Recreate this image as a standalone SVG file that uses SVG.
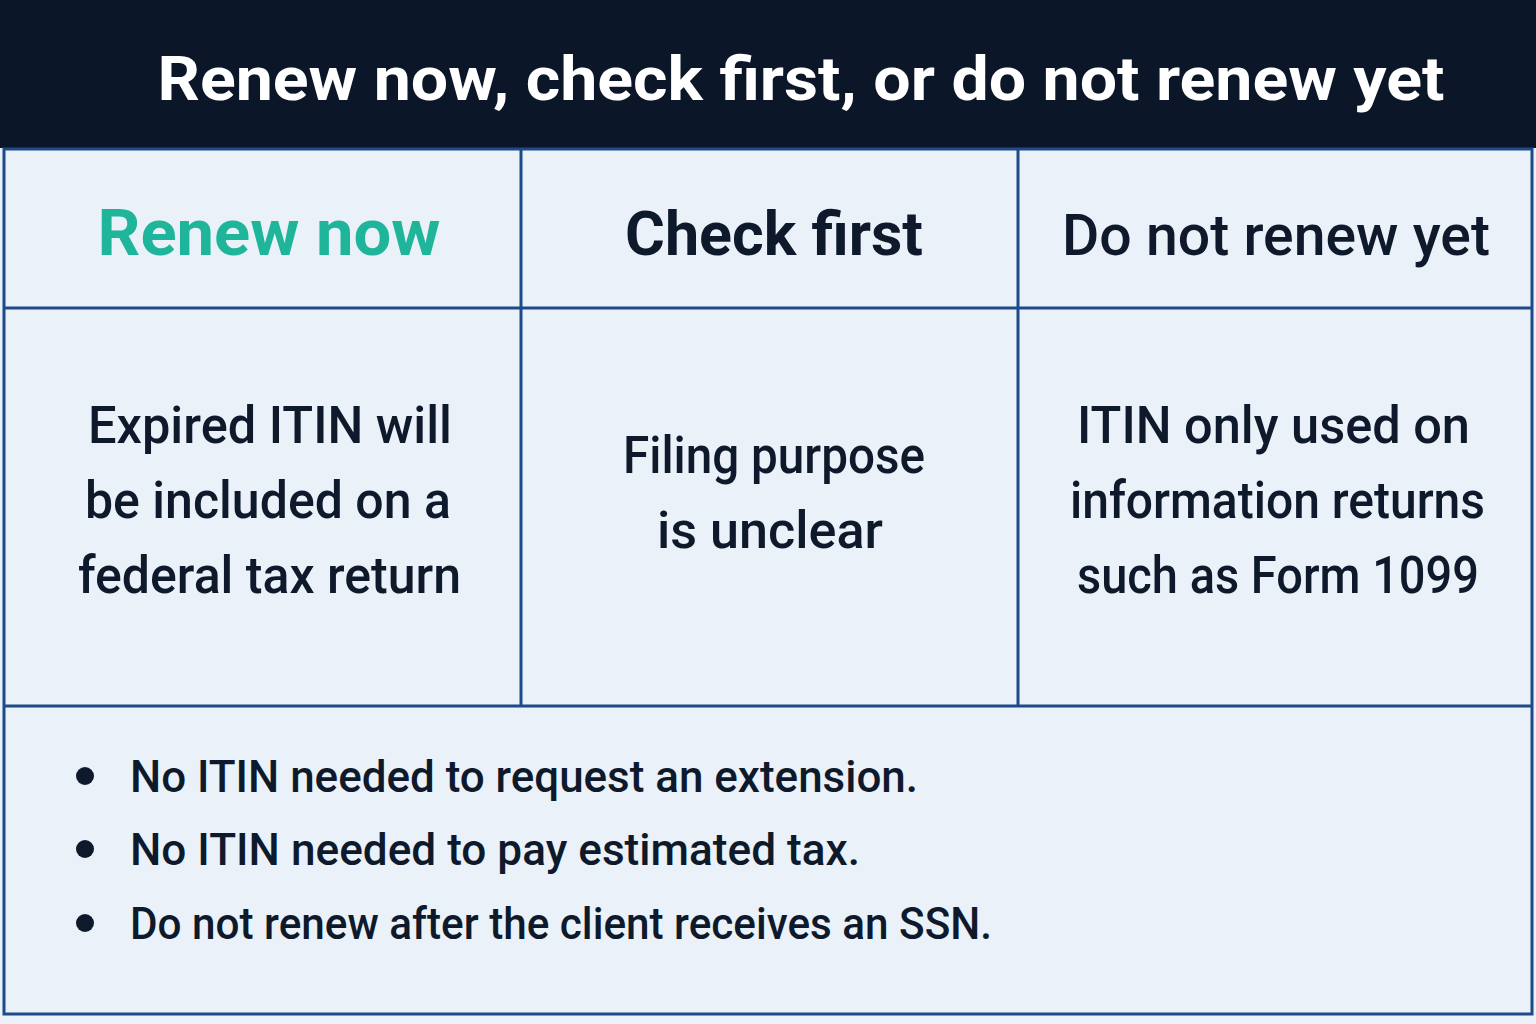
<svg xmlns="http://www.w3.org/2000/svg" width="1536" height="1024" viewBox="0 0 1536 1024">
<style>
.t{font-family:"Roboto","Liberation Sans",sans-serif;font-weight:500;fill:#0e1a2b}
.b{stroke:#1d4a8a;stroke-width:3;fill:none}
</style>
<rect width="1536" height="1024" fill="#eaf1f8"/>
<rect x="0" y="0" width="1536" height="148" fill="#0b1628"/>
<text x="801" y="100" text-anchor="middle" class="t" style="fill:#fff;font-weight:700" font-size="62" textLength="1287" lengthAdjust="spacingAndGlyphs">Renew now, check first, or do not renew yet</text>
<g id="grid">
<rect class="b" x="4" y="149" width="1528" height="865"/>
<line class="b" x1="521" y1="149" x2="521" y2="706"/>
<line class="b" x1="1018" y1="149" x2="1018" y2="706"/>
<line class="b" x1="4" y1="308" x2="1532" y2="308"/>
<line class="b" x1="4" y1="706" x2="1532" y2="706"/>
</g>
<g id="col1">
<text x="269" y="255" text-anchor="middle" class="t" style="fill:#1fb59a;font-weight:700" font-size="64" textLength="343" lengthAdjust="spacingAndGlyphs">Renew now</text>
<g class="t" font-size="52" lengthAdjust="spacingAndGlyphs">
<text x="88" y="443" textLength="364" lengthAdjust="spacingAndGlyphs">Expired ITIN will</text>
<text x="85" y="518" textLength="366" lengthAdjust="spacingAndGlyphs">be included on a</text>
<text x="78" y="593" textLength="383" lengthAdjust="spacingAndGlyphs">federal tax return</text>
</g>
</g>
<g id="col2">
<text x="774" y="255" text-anchor="middle" class="t" style="font-weight:700" font-size="62" textLength="298" lengthAdjust="spacingAndGlyphs">Check first</text>
<g class="t" font-size="52">
<text x="623" y="473" textLength="302" lengthAdjust="spacingAndGlyphs">Filing purpose</text>
<text x="657" y="548" textLength="226" lengthAdjust="spacingAndGlyphs">is unclear</text>
</g>
</g>
<g id="col3">
<text x="1276" y="255" text-anchor="middle" class="t" font-size="58" textLength="428" lengthAdjust="spacingAndGlyphs">Do not renew yet</text>
<g class="t" font-size="52">
<text x="1077" y="443" textLength="393" lengthAdjust="spacingAndGlyphs">ITIN only used on</text>
<text x="1070" y="518" textLength="415" lengthAdjust="spacingAndGlyphs">information returns</text>
<text x="1077" y="593" textLength="402" lengthAdjust="spacingAndGlyphs">such as Form 1099</text>
</g>
</g>
<g id="notes">
<circle cx="85" cy="776" r="9" fill="#0e1a2b"/>
<circle cx="85" cy="849" r="9" fill="#0e1a2b"/>
<circle cx="85" cy="923" r="9" fill="#0e1a2b"/>
<text class="t" font-size="44" x="130" y="792" textLength="788" lengthAdjust="spacingAndGlyphs">No ITIN needed to request an extension.</text>
<text class="t" font-size="44" x="130" y="865" textLength="730" lengthAdjust="spacingAndGlyphs">No ITIN needed to pay estimated tax.</text>
<text class="t" font-size="44" x="130" y="939" textLength="862" lengthAdjust="spacingAndGlyphs">Do not renew after the client receives an SSN.</text>
</g>
</svg>
